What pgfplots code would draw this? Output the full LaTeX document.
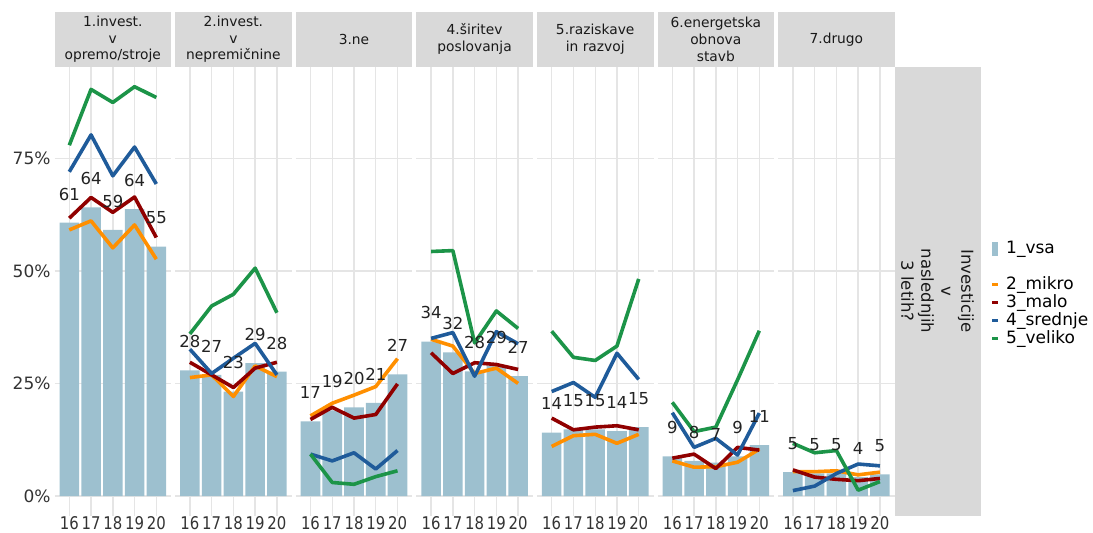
\documentclass[border=0pt]{standalone}
\usepackage{pgfplots}
\pgfplotsset{compat=1.18}
\usepackage{pgfplotstable}
\usepackage{fontspec}
\setmainfont{DejaVu Sans}
\newfontfamily\narrowfam{DejaVu Sans}[FakeStretch=0.85]
\definecolor{barc}{HTML}{9DC0CF}
\definecolor{mikroc}{HTML}{FF8F00}
\definecolor{maloc}{HTML}{900000}
\definecolor{srednjec}{HTML}{1F5B9A}
\definecolor{velikoc}{HTML}{1C9448}
\definecolor{gridc}{HTML}{E5E5E5}
\definecolor{stripc}{HTML}{D9D9D9}
\definecolor{tickc}{HTML}{333333}
\definecolor{labc}{HTML}{222222}
\newcommand{\tickfont}{\fontsize{17pt}{20pt}\selectfont}
\newcommand{\xtickfont}{\narrowfam\fontsize{17.5pt}{20pt}\selectfont}
\newcommand{\labfont}{\fontsize{16.5pt}{19pt}\selectfont}
\newcommand{\stripfont}{\fontsize{13.8pt}{16.7pt}\selectfont}
\newcommand{\rstripfont}{\fontsize{16.5pt}{20pt}\selectfont}
\newcommand{\legfont}{\fontsize{17pt}{20pt}\selectfont}

\pgfplotstableread{
x vsa mikro malo srednje veliko lab
1 60.7 59.1 61.7 72.0 77.9 61
2 64.1 61.1 66.3 80.2 90.3 64
3 59.1 55.1 63.0 71.1 87.4 59
4 63.7 60.2 66.4 77.5 90.9 64
5 55.4 52.6 57.4 69.3 88.5 55
}\pone
\pgfplotstableread{
x vsa mikro malo srednje veliko lab
1 27.9 26.3 29.7 32.6 36.0 28
2 26.9 26.9 26.9 27.2 42.2 27
3 23.2 22.1 24.1 30.6 44.8 23
4 29.5 28.9 28.4 33.9 50.6 29
5 27.6 26.5 29.7 26.9 40.7 28
}\ptwo
\pgfplotstableread{
x vsa mikro malo srednje veliko lab
1 16.6 17.8 17.0 9.3 9.3 17
2 19.0 20.6 19.7 7.8 3.0 19
3 19.7 22.4 17.3 9.6 2.6 20
4 20.7 24.3 18.1 6.0 4.3 21
5 27.0 30.5 24.9 10.1 5.6 27
}\pthree
\pgfplotstableread{
x vsa mikro malo srednje veliko lab
1 34.3 34.8 31.8 35.0 54.3 34
2 31.9 33.3 27.2 36.3 54.5 32
3 27.7 27.2 29.6 26.6 34.0 28
4 28.9 28.4 29.2 36.5 41.1 29
5 26.6 25.0 28.1 33.8 37.2 27
}\pfour
\pgfplotstableread{
x vsa mikro malo srednje veliko lab
1 14.1 11.0 17.3 23.2 36.6 14
2 14.8 13.4 14.7 25.2 30.8 15
3 14.8 13.7 15.3 21.9 30.1 15
4 14.4 11.7 15.6 31.7 33.3 14
5 15.3 13.7 14.7 25.9 48.2 15
}\pfive
\pgfplotstableread{
x vsa mikro malo srednje veliko lab
1 8.8 7.8 8.4 18.5 20.8 9
2 7.8 6.4 9.3 10.8 14.3 8
3 7.4 6.5 6.1 12.8 15.3 7
4 8.8 7.5 10.8 9.1 25.8 9
5 11.3 10.4 10.2 18.4 36.7 11
}\psix
\pgfplotstableread{
x vsa mikro malo srednje veliko lab
1 5.3 5.4 5.8 1.2 11.7 5
2 5.0 5.4 4.2 2.2 9.6 5
3 5.0 5.6 3.7 5.0 10.1 5
4 4.2 4.7 3.4 7.1 1.3 4
5 4.8 5.3 3.9 6.7 3.2 5
}\pseven

\pgfplotsset{
  panel/.style={
    scale only axis, width=116.6pt, height=449.3pt, anchor=south west,
    xmin=0.32, xmax=5.68, ymin=-4.44, ymax=95.34,
    xtick={1,2,3,4,5}, xticklabels={16,17,18,19,20},
    ytick={0,25,50,75}, yticklabels={},
    xmajorgrids, ymajorgrids,
    major grid style={gridc, line width=1.4pt},
    axis line style={draw=none}, major tick length=0pt,
    xticklabel style={font=\xtickfont, text=tickc, anchor=base, yshift=-14pt, inner sep=0pt},
    yticklabel style={font=\tickfont, text=tickc, anchor=east, inner sep=0pt, xshift=-3.8pt},
    clip=false,
  },
  ln/.style={line width=3.6pt, line join=round},
}

\newcommand{\panel}[3]{%
\begin{axis}[panel, at={(#1pt,17pt)}, #3]
\addplot[ybar, bar width=0.9, bar shift=0pt, fill=barc, draw=none] table[x=x,y=vsa]{#2};
\addplot[draw=none, nodes near coords, point meta=explicit symbolic,
  nodes near coords style={anchor=center, font=\labfont, text=labc, inner sep=0pt}]
  table[x=x, y expr=\thisrow{vsa}+6.35, meta=lab]{#2};
\addplot[ln, mikroc] table[x=x,y=mikro]{#2};
\addplot[ln, maloc] table[x=x,y=malo]{#2};
\addplot[ln, srednjec] table[x=x,y=srednje]{#2};
\addplot[ln, velikoc] table[x=x,y=veliko]{#2};
\end{axis}}

\begin{document}
\begin{tikzpicture}[x=1pt,y=1pt]
\useasboundingbox (0,0) rectangle (1093,533);
% top strips
\foreach \l/\t in {54.5/{1.invest.\\v\\opremo/stroje}, 175.1/{2.invest.\\v\\nepremičnine}, 295.7/{3.ne}, 416.3/{4.širitev\\poslovanja}, 536.9/{5.raziskave\\in razvoj}, 657.5/{6.energetska\\obnova\\stavb}, 778.1/{7.drugo}}{
  \fill[stripc] (\l,466.3) rectangle ({\l+116.6},521.3);
  \node[font=\stripfont, text=black!90, align=center, inner sep=0pt] at ({\l+58.3},493.8) {\t};
}
% right strip
\fill[stripc] (894.7,17) rectangle (981,466.3);
\node[font=\rstripfont, text=black!90, align=center, inner sep=0pt, rotate=-90] at (937.5,242) {Investicije\\v\\naslednjih\\3 letih?};

\panel{54.5}{\pone}{yticklabels={0\%,25\%,50\%,75\%}}
\panel{175.1}{\ptwo}{}
\panel{295.7}{\pthree}{}
\panel{416.3}{\pfour}{}
\panel{536.9}{\pfive}{}
\panel{657.5}{\psix}{}
\panel{778.1}{\pseven}{}

% legend
\fill[barc] (992.3,277) rectangle (998.3,291);
\node[font=\legfont, anchor=west, inner sep=0pt] at (1006,284) {1\_vsa};
\foreach \c/\t/\yy in {mikroc/2\_mikro/248, maloc/3\_malo/230.3, srednjec/4\_srednje/212.3, velikoc/5\_veliko/194}{
  \fill[\c] (992.3,\yy-1.5) rectangle (998.3,\yy+1.5);
  \node[font=\legfont, anchor=west, inner sep=0pt] at (1006,\yy) {\t};
}
\end{tikzpicture}
\end{document}
